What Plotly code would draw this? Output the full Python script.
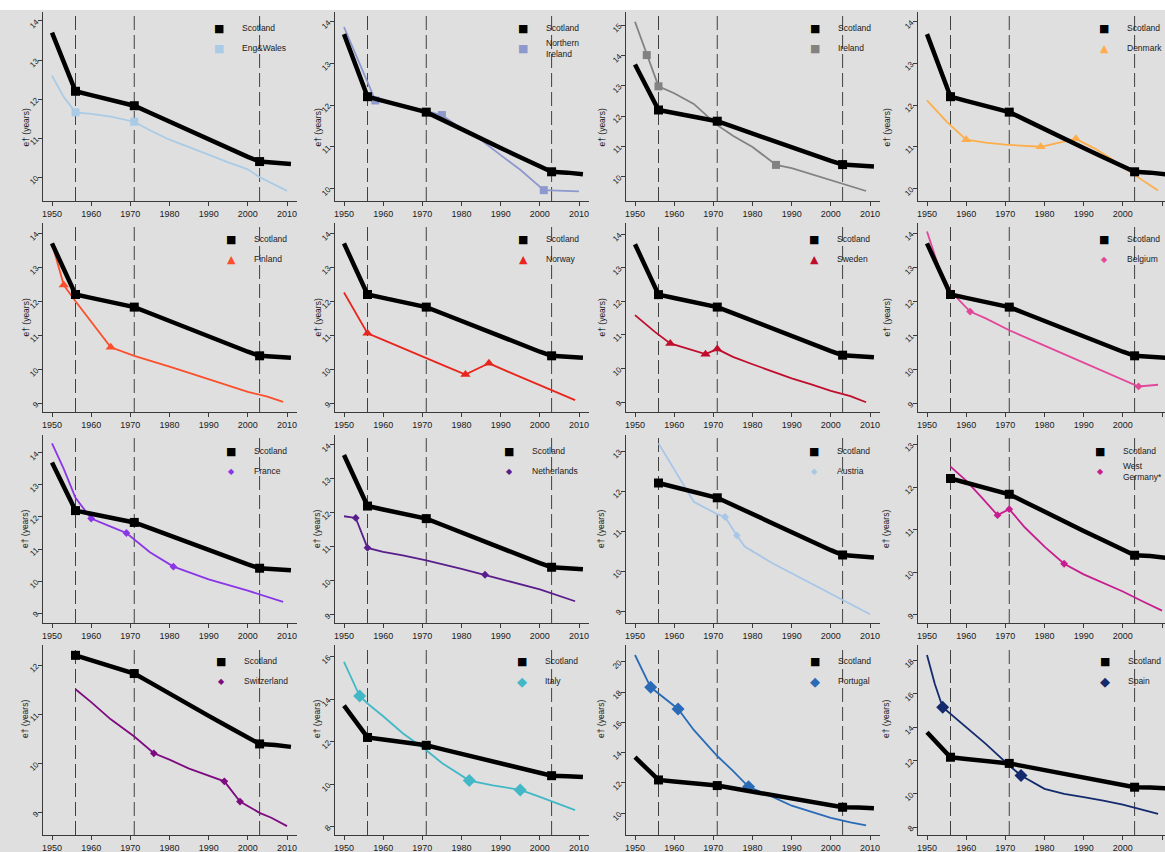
import plotly.graph_objects as go

# ---------------------------------------------------------------- data
years_ticks = [1950, 1960, 1970, 1980, 1990, 2000, 2010]
break_years = [1956, 1971, 2003]

scot_years = [1950, 1956, 1960, 1965, 1971, 1975, 1980, 1985, 1990, 1995, 2000, 2003, 2007, 2011]
scot_vals = [13.7, 12.2, 12.1, 11.98, 11.83, 11.65, 11.42, 11.18, 10.97, 10.75, 10.52, 10.4, 10.38, 10.34]
scot_mark_years = [1956, 1971, 2003]

countries = ["Eng&Wales", "Northern<br>Ireland", "Ireland", "Denmark",
             "Finland", "Norway", "Sweden", "Belgium",
             "France", "Netherlands", "Austria", "West<br>Germany*",
             "Switzerland", "Italy", "Portugal", "Spain"]

ew_years = [1950, 1953, 1956, 1960, 1965, 1971, 1975, 1980, 1985, 1990, 1995, 2000, 2003, 2006, 2010]
ew_vals = [12.6, 12.05, 11.66, 11.62, 11.55, 11.42, 11.2, 10.96, 10.77, 10.57, 10.38, 10.2, 10.0, 9.85, 9.65]
ew_marks = [1956, 1971]

ni_years = [1950, 1953, 1956, 1958, 1965, 1971, 1975, 1980, 1985, 1990, 1995, 2001, 2005, 2010]
ni_vals = [13.87, 13.2, 12.52, 12.11, 12.0, 11.85, 11.76, 11.43, 11.16, 10.8, 10.45, 9.96, 9.95, 9.93]
ni_marks = [1958, 1975, 2001]

ie_years = [1950, 1953, 1956, 1960, 1965, 1971, 1975, 1980, 1986, 1990, 1995, 2000, 2003, 2009]
ie_vals = [15.11, 14.01, 12.98, 12.75, 12.4, 11.7, 11.35, 10.98, 10.39, 10.28, 10.08, 9.89, 9.78, 9.53]
ie_marks = [1953, 1956, 1986]

dk_years = [1950, 1955, 1960, 1965, 1970, 1975, 1979, 1983, 1988, 1993, 1998, 2003, 2009]
dk_vals = [12.11, 11.6, 11.17, 11.1, 11.05, 11.02, 11.0, 11.08, 11.19, 10.95, 10.65, 10.32, 9.95]
dk_marks = [1960, 1979, 1988]

fi_years = [1950, 1953, 1956, 1960, 1965, 1971, 1975, 1980, 1985, 1990, 1995, 2000, 2005, 2009]
fi_vals = [13.7, 12.48, 12.0, 11.4, 10.65, 10.4, 10.25, 10.08, 9.9, 9.71, 9.53, 9.34, 9.2, 9.05]
fi_marks = [1953, 1965]

no_years = [1950, 1956, 1960, 1965, 1971, 1976, 1981, 1987, 1992, 1997, 2003, 2009]
no_vals = [12.26, 11.06, 10.87, 10.62, 10.33, 10.09, 9.85, 10.18, 9.93, 9.68, 9.4, 9.1]
no_marks = [1956, 1981, 1987]

se_years = [1950, 1955, 1959, 1963, 1968, 1971, 1975, 1980, 1985, 1990, 1995, 2000, 2005, 2009]
se_vals = [11.59, 11.1, 10.75, 10.6, 10.43, 10.58, 10.35, 10.13, 9.92, 9.71, 9.53, 9.34, 9.18, 9.0]
se_marks = [1959, 1968, 1971]

be_years = [1950, 1953, 1956, 1961, 1965, 1971, 1980, 1990, 2000, 2004, 2009]
be_vals = [14.05, 13.0, 12.3, 11.7, 11.5, 11.15, 10.7, 10.2, 9.7, 9.5, 9.55]
be_marks = [1961, 2004]

fr_years = [1950, 1953, 1956, 1960, 1965, 1969, 1975, 1981, 1990, 2000, 2009]
fr_vals = [14.3, 13.5, 12.6, 11.95, 11.7, 11.5, 10.9, 10.45, 10.05, 9.7, 9.35]
fr_marks = [1960, 1969, 1981]

nl_years = [1950, 1953, 1956, 1960, 1965, 1971, 1980, 1986, 1990, 2000, 2009]
nl_vals = [11.9, 11.85, 10.97, 10.85, 10.75, 10.6, 10.35, 10.18, 10.05, 9.75, 9.4]
nl_marks = [1953, 1956, 1986]

at_years = [1956, 1960, 1965, 1971, 1973, 1976, 1978, 1985, 1990, 1995, 2000, 2005, 2010]
at_vals = [13.19, 12.55, 11.73, 11.42, 11.35, 10.89, 10.61, 10.2, 9.94, 9.7, 9.44, 9.18, 8.92]
at_marks = [1973, 1976]

wg_years = [1956, 1960, 1964, 1968, 1971, 1975, 1980, 1985, 1990, 1995, 2000, 2005, 2010]
wg_vals = [12.48, 12.15, 11.75, 11.34, 11.48, 11.05, 10.6, 10.2, 9.95, 9.75, 9.55, 9.32, 9.1]
wg_marks = [1968, 1971, 1985]

ch_years = [1956, 1960, 1965, 1971, 1976, 1980, 1985, 1990, 1994, 1998, 2003, 2006, 2010]
ch_vals = [11.51, 11.25, 10.9, 10.55, 10.21, 10.08, 9.9, 9.75, 9.64, 9.23, 9.0, 8.9, 8.73]
ch_marks = [1976, 1994, 1998]

it_years = [1950, 1954, 1956, 1960, 1965, 1971, 1975, 1982, 1988, 1995, 2000, 2003, 2009]
it_vals = [15.76, 14.15, 13.8, 13.2, 12.4, 11.6, 11.0, 10.17, 9.95, 9.73, 9.4, 9.2, 8.78]
it_marks = [1954, 1982, 1995]

pt_years = [1950, 1954, 1961, 1965, 1971, 1975, 1979, 1985, 1990, 1995, 2000, 2005, 2009]
pt_vals = [20.44, 18.31, 16.88, 15.5, 13.78, 12.8, 11.75, 11.1, 10.5, 10.1, 9.7, 9.4, 9.2]
pt_marks = [1954, 1961, 1979]

es_years = [1950, 1952, 1954, 1956, 1960, 1965, 1971, 1974, 1980, 1985, 1990, 1995, 2000, 2005, 2009]
es_vals = [18.34, 16.6, 15.2, 14.8, 14.0, 13.0, 11.7, 11.1, 10.3, 10.0, 9.8, 9.6, 9.35, 9.05, 8.8]
es_marks = [1954, 1974]

series = [(ew_years, ew_vals, ew_marks), (ni_years, ni_vals, ni_marks),
          (ie_years, ie_vals, ie_marks), (dk_years, dk_vals, dk_marks),
          (fi_years, fi_vals, fi_marks), (no_years, no_vals, no_marks),
          (se_years, se_vals, se_marks), (be_years, be_vals, be_marks),
          (fr_years, fr_vals, fr_marks), (nl_years, nl_vals, nl_marks),
          (at_years, at_vals, at_marks), (wg_years, wg_vals, wg_marks),
          (ch_years, ch_vals, ch_marks), (it_years, it_vals, it_marks),
          (pt_years, pt_vals, pt_marks), (es_years, es_vals, es_marks)]

# Scotland is shown from this year onwards in each panel
scot_start = [1950, 1950, 1950, 1950,
              1950, 1950, 1950, 1950,
              1950, 1950, 1956, 1956,
              1956, 1950, 1950, 1950]

# ---------------------------------------------------------------- styling
colors = ["#a9cbe6", "#8d98cc", "#828282", "#fdae4a",
          "#fb4f2b", "#e8251d", "#c00d2e", "#e2489a",
          "#8a35e8", "#5a1e8c", "#a8c6e8", "#c71d8e",
          "#7e0a80", "#42b8c6", "#2a6bb8", "#132a6c"]
symbols = ["square", "square", "square", "triangle-up",
           "triangle-up", "triangle-up", "triangle-up", "diamond",
           "diamond", "diamond", "diamond", "diamond",
           "diamond", "diamond", "diamond", "diamond"]
glyphs = {"square": "\u25A0", "triangle-up": "\u25B2", "diamond": "\u25C6"}
msize = [8, 8, 8, 9, 9, 9, 9, 6, 6, 6, 6, 6, 6, 10, 10, 10]
gsize = [11, 11, 11, 11, 11, 11, 11, 8, 8, 8, 8, 8, 8, 13, 13, 13]

y_ranges = [[9.39, 14.23], [9.70, 14.23], [9.20, 15.43], [9.70, 14.23],
            [8.75, 14.30], [8.75, 14.30], [8.71, 14.33], [8.75, 14.30],
            [8.69, 14.56], [8.76, 14.29], [8.70, 13.40], [8.81, 13.22],
            [8.55, 12.41], [7.61, 16.55], [8.57, 21.10], [7.53, 18.94]]
y_dtick = [1] * 13 + [2, 2, 2]
legend_dx = [197, 209, 210, 207,
             209, 209, 209, 207,
             209, 195, 209, 203,
             199, 208, 210, 208]

W, H = 1165, 852
BG = "#dfdfdf"
AX = "#3a3a3a"
FONT = "Liberation Sans, Arial, sans-serif"
col_left = [43, 335, 626, 918]
row_top = [12, 223, 435, 645]
row_bottom = [201, 412, 623, 835]
PX_PER_YEAR = 3.917
X_LEFT = 1950 - 9 / PX_PER_YEAR
PLOT_W = 254

fig = go.Figure()
shapes = []
annotations = []
layout_axes = {}

for i, name in enumerate(countries):
    r, c = divmod(i, 4)
    n = i + 1
    xa = "x" if n == 1 else f"x{n}"
    ya = "y" if n == 1 else f"y{n}"
    x0 = col_left[c]
    x1 = min(x0 + PLOT_W, W)
    x_right = X_LEFT + (x1 - x0) / PX_PER_YEAR
    top, bot = row_top[r], row_bottom[r]

    layout_axes[f"xaxis{n}"] = dict(
        domain=[x0 / W, x1 / W], range=[X_LEFT, x_right], anchor=ya,
        tickvals=years_ticks, ticks="outside", ticklen=4, tickcolor=AX,
        showline=True, linecolor=AX, linewidth=1, showgrid=False, zeroline=False,
        tickfont=dict(size=9, color="#1a1a1a", family=FONT))
    layout_axes[f"yaxis{n}"] = dict(
        domain=[1 - bot / H, 1 - top / H], range=y_ranges[i], anchor=xa,
        dtick=y_dtick[i], tick0=0, ticks="outside", ticklen=4, tickcolor=AX,
        showline=True, linecolor=AX, linewidth=1, showgrid=False, zeroline=False,
        tickangle=-45, tickfont=dict(size=8, color="#1a1a1a", family=FONT))

    # period boundaries
    for yr in break_years:
        shapes.append(dict(type="line", xref=xa, yref=f"{ya} domain",
                           x0=yr, x1=yr, y0=0, y1=1, layer="below",
                           line=dict(color="#404040", width=1, dash="14px,5px")))

    # comparison country
    yrs, vals, marks = series[i]
    lookup = dict(zip(yrs, vals))
    fig.add_trace(go.Scatter(x=yrs, y=vals, mode="lines", xaxis=xa, yaxis=ya,
                             line=dict(color=colors[i], width=1.8), hoverinfo="skip"))
    fig.add_trace(go.Scatter(x=marks, y=[lookup[m] for m in marks], mode="markers",
                             xaxis=xa, yaxis=ya, hoverinfo="skip",
                             marker=dict(symbol=symbols[i], size=msize[i], color=colors[i])))

    # Scotland
    sy = [y for y in scot_years if y >= scot_start[i]]
    sv = [v for y, v in zip(scot_years, scot_vals) if y >= scot_start[i]]
    slook = dict(zip(scot_years, scot_vals))
    fig.add_trace(go.Scatter(x=sy, y=sv, mode="lines", xaxis=xa, yaxis=ya,
                             line=dict(color="black", width=4.5), hoverinfo="skip"))
    fig.add_trace(go.Scatter(x=scot_mark_years, y=[slook[m] for m in scot_mark_years],
                             mode="markers", xaxis=xa, yaxis=ya, hoverinfo="skip",
                             marker=dict(symbol="square", size=9, color="black")))

    # y axis title
    annotations.append(dict(xref="paper", yref="paper", x=(x0 - 25) / W,
                            y=1 - (top + bot) / 2 / H, text="e\u2020 (years)",
                            textangle=-90, showarrow=False,
                            font=dict(size=8.5, color="#1a1a1a", family=FONT)))

    # legend
    tx = x0 + legend_dx[i]
    mx = tx - 21
    for k, (lbl, col, gl, gs) in enumerate([
            ("Scotland", "black", glyphs["square"], 11),
            (name, colors[i], glyphs[symbols[i]], gsize[i])]):
        yy = 1 - (top + 16 + 20 * k) / H
        annotations.append(dict(xref="paper", yref="paper", x=mx / W, y=yy,
                                text=gl, showarrow=False, xanchor="center", yanchor="middle",
                                font=dict(size=gs, color=col, family="DejaVu Sans")))
        annotations.append(dict(xref="paper", yref="paper", x=tx / W, y=yy,
                                text=lbl, showarrow=False, xanchor="left", yanchor="middle",
                                align="left",
                                font=dict(size=8.5, color="#1a1a1a", family=FONT)))

# white strip above the panel grid
shapes.append(dict(type="rect", xref="paper", yref="paper", x0=0, x1=1,
                   y0=1 - 10 / H, y1=1, fillcolor="white", line=dict(width=0), layer="below"))

fig.update_layout(width=W, height=H, margin=dict(l=0, r=0, t=0, b=0),
                  paper_bgcolor=BG, plot_bgcolor=BG, showlegend=False,
                  font=dict(family=FONT), shapes=shapes, annotations=annotations,
                  **layout_axes)

fig.write_html("out.html")
